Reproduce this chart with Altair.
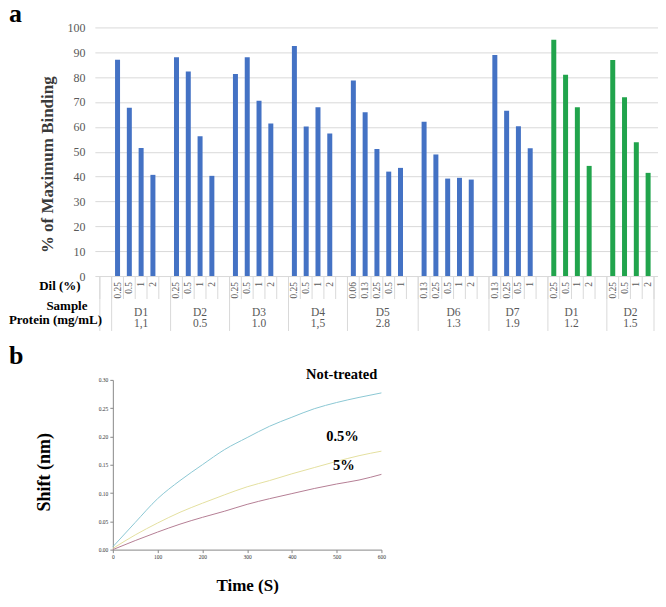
import altair as alt
import pandas as pd

SERIF = "Liberation Serif"

# ---------------- Panel a data ----------------
samples = ["D1", "D2", "D3", "D4", "D5", "D6", "D7", "D1", "D2"]
proteins = ["1,1", "0.5", "1.0", "1,5", "2.8", "1.3", "1.9", "1.2", "1.5"]
treatment = ["blue", "blue", "blue", "blue", "blue", "blue", "blue", "green", "green"]
dilutions = [
    ["0.25", "0.5", "1", "2"],
    ["0.25", "0.5", "1", "2"],
    ["0.25", "0.5", "1", "2"],
    ["0.25", "0.5", "1", "2"],
    ["0.06", "0.13", "0.25", "0.5", "1"],
    ["0.13", "0.25", "0.5", "1", "2"],
    ["0.13", "0.25", "0.5", "1"],
    ["0.25", "0.5", "1", "2"],
    ["0.25", "0.5", "1", "2"],
]
binding = [
    [87.0, 67.7, 51.5, 40.7],
    [88.0, 82.3, 56.2, 40.3],
    [81.3, 88.0, 70.5, 61.4],
    [92.5, 60.1, 67.9, 57.3],
    [78.7, 65.9, 51.1, 42.0, 43.5],
    [62.1, 48.9, 39.2, 39.5, 38.8],
    [88.9, 66.5, 60.2, 51.4],
    [95.0, 81.0, 67.9, 44.3],
    [86.9, 71.9, 53.8, 41.5],
]
label_span_gap = [1, 1, 1, 1, 1, 1, 0, 0, 0]
y_ticks_a = [0, 10, 20, 30, 40, 50, 60, 70, 80, 90, 100]

# ---------------- Panel b data ----------------
time_s = [0, 50, 100, 150, 200, 250, 300, 350, 400, 450, 500, 550, 600]
shift_not_treated = [0.005, 0.048, 0.090, 0.122, 0.150, 0.177, 0.198, 0.218, 0.234, 0.249, 0.260, 0.269, 0.277]
shift_05 = [0.002, 0.026, 0.047, 0.066, 0.082, 0.097, 0.111, 0.122, 0.134, 0.145, 0.156, 0.166, 0.174]
shift_5 = [0.000, 0.016, 0.031, 0.045, 0.057, 0.068, 0.080, 0.090, 0.099, 0.108, 0.116, 0.123, 0.133]
curve_names = ["Not-treated", "0.5%", "5%"]
curve_colors = ["#8cc8d4", "#e4e0a0", "#b57e95"]
label_time = [511, 513, 516]
label_shift = [0.308, 0.199, 0.148]
x_ticks_b = [0, 100, 200, 300, 400, 500, 600]
y_ticks_b = [0.0, 0.05, 0.10, 0.15, 0.20, 0.25, 0.30]

# ---------------- build tables ----------------
bar_rows, grp_rows, long_b = [], [], []
slot = 1
for i in range(len(samples)):
    start = slot
    for d, v in zip(dilutions[i], binding[i]):
        bar_rows.append({"slot": slot, "dil": d, "value": v, "set": treatment[i]})
        slot += 1
    end = slot - 1
    grp_rows.append({"slot": (start + end + label_span_gap[i]) / 2,
                     "sample": samples[i], "protein": proteins[i]})
    long_b.append(start - 0.5)
    slot += 1
x_max = bar_rows[-1]["slot"] + 0.5
long_b = [-0.5] + long_b + [x_max]
short_b = [k - 0.5 for k in range(0, int(x_max + 0.5) + 1)]

df_bars = pd.DataFrame(bar_rows)
df_grp = pd.DataFrame(grp_rows)
df_short = pd.DataFrame({"b": short_b})
df_long = pd.DataFrame({"b": long_b})

curve_rows = []
for name, series in zip(curve_names, [shift_not_treated, shift_05, shift_5]):
    for t, s in zip(time_s, series):
        curve_rows.append({"t": t, "shift": s, "cond": name})
df_curves = pd.DataFrame(curve_rows)
df_lab = pd.DataFrame({"t": label_time, "shift": label_shift, "name": curve_names})

W_A, H_A = 565, 249
W_B, H_B = 269, 170
B_SHIFT = 18  # panel b plot starts this far right of panel a's plot origin
LEFT = -86    # position of the panel letters relative to the plot origin


def label(text, x, y, size, align="center", baseline="middle", color="black", weight="bold"):
    return alt.Chart(pd.DataFrame({"t": [text]})).mark_text(
        font=SERIF, fontSize=size, fontWeight=weight, align=align,
        baseline=baseline, color=color
    ).encode(text="t:N", x=alt.value(x), y=alt.value(y))


xs = alt.Scale(domain=[-0.5, x_max], nice=False, zero=False)

bars = alt.Chart(df_bars).mark_bar(size=5).encode(
    x=alt.X("slot:Q", scale=xs, axis=None),
    y=alt.Y("value:Q", scale=alt.Scale(domain=[0, 100], nice=False),
            axis=alt.Axis(values=y_ticks_a, tickCount=len(y_ticks_a), grid=True,
                          gridColor="#d9d9d9", domain=False, ticks=False,
                          labelFont=SERIF, labelFontSize=12, labelColor="#595959",
                          labelPadding=10, labelOverlap=False,
                          title="% of Maximum Binding", titleFont=SERIF,
                          titleFontSize=17, titleFontWeight="bold",
                          titleColor="#3a3a3a", titlePadding=10, titleY=137)),
    color=alt.Color("set:N", scale=alt.Scale(domain=["blue", "green"],
                                             range=["#4472C4", "#21A44C"]),
                    legend=None),
)

dil_text = alt.Chart(df_bars).mark_text(
    angle=270, align="right", baseline="middle", font=SERIF, fontSize=9.5,
    color="#595959"
).encode(x=alt.X("slot:Q", scale=xs, axis=None), y=alt.value(H_A + 6), text="dil:N")

short_rules = alt.Chart(df_short).mark_rule(color="#d9d9d9", strokeWidth=1).encode(
    x=alt.X("b:Q", scale=xs, axis=None), y=alt.value(H_A), y2=alt.value(H_A + 23))
long_rules = alt.Chart(df_long).mark_rule(color="#d9d9d9", strokeWidth=1).encode(
    x=alt.X("b:Q", scale=xs, axis=None), y=alt.value(H_A), y2=alt.value(H_A + 55))

grp_text = alt.Chart(df_grp).mark_text(
    font=SERIF, fontSize=11.5, color="#595959", baseline="middle"
).encode(x=alt.X("slot:Q", scale=xs, axis=None), y=alt.value(H_A + 37), text="sample:N")
prot_text = alt.Chart(df_grp).mark_text(
    font=SERIF, fontSize=11.5, color="#595959", baseline="middle"
).encode(x=alt.X("slot:Q", scale=xs, axis=None), y=alt.value(H_A + 48), text="protein:N")

panel_a = alt.layer(
    short_rules, long_rules, bars, dil_text, grp_text, prot_text,
    label("Dil (%)", -35, H_A + 10, 13),
    label("Sample", -28, H_A + 30, 13),
    label("Protein (mg/mL)", -39.5, H_A + 44, 13),
    label("a", LEFT, -5, 26, align="left", baseline="alphabetic"),
).properties(width=W_A, height=H_A)

# ---------------- Panel b ----------------
xsb = alt.Scale(domain=[0, 600], nice=False, range=[B_SHIFT, B_SHIFT + W_B])
ysb = alt.Scale(domain=[0, 0.3], nice=False)

lines = alt.Chart(df_curves).mark_line(strokeWidth=1, interpolate="monotone").encode(
    x=alt.X("t:Q", scale=xsb,
            axis=alt.Axis(values=x_ticks_b, tickCount=len(x_ticks_b), format="d",
                          title="Time (S)", titleFont=SERIF, titleFontSize=17,
                          titleFontWeight="bold", titleColor="black", titlePadding=17,
                          labelFont=SERIF, labelFontSize=5.5, labelColor="#333333",
                          labelPadding=2, labelFlush=False, labelOverlap=False,
                          tickSize=3, tickColor="#888888", domainColor="#888888",
                          grid=False)),
    y=alt.Y("shift:Q", scale=ysb,
            axis=alt.Axis(values=y_ticks_b, tickCount=len(y_ticks_b), format=".2f",
                          title="Shift (nm)", titleFont=SERIF, titleFontSize=18,
                          titleFontWeight="bold", titleColor="black", titlePadding=45,
                          titleY=H_B / 2 + 7, labelFont=SERIF, labelFontSize=5.5,
                          labelColor="#333333", labelPadding=2, labelFlush=False,
                          labelOverlap=False, tickSize=3, offset=-B_SHIFT,
                          tickColor="#888888", domainColor="#888888", grid=False)),
    color=alt.Color("cond:N", scale=alt.Scale(domain=curve_names, range=curve_colors),
                    legend=None),
)

curve_labels = alt.Chart(df_lab).mark_text(
    font=SERIF, fontSize=14.5, fontWeight="bold", color="black", baseline="middle"
).encode(x=alt.X("t:Q", scale=xsb), y=alt.Y("shift:Q", scale=ysb), text="name:N")

panel_b = alt.layer(
    lines, curve_labels,
    label("b", LEFT, -16, 26, align="left", baseline="alphabetic"),
).properties(width=W_B + B_SHIFT, height=H_B)

chart = alt.vconcat(panel_a, panel_b, spacing=11).resolve_scale(
    color="independent"
).configure_view(
    stroke=None
).properties(
    padding={"left": 0, "right": -1, "top": -7, "bottom": 0},
    background="white",
)

chart.save("out.html", embed_options={"renderer": "svg", "actions": False})
